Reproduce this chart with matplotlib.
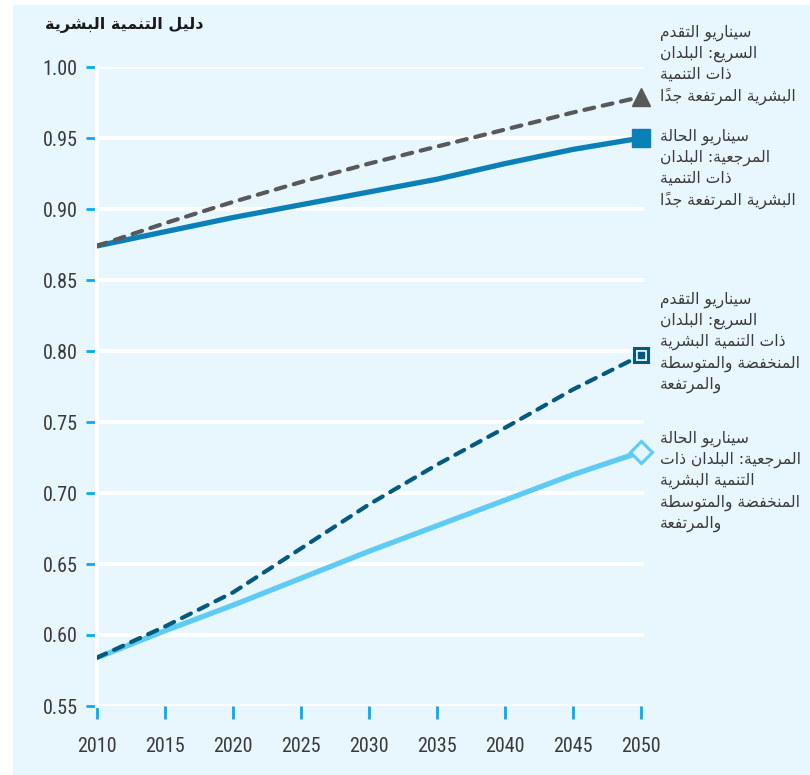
import matplotlib
matplotlib.use("Agg")
import matplotlib.pyplot as plt
from matplotlib import font_manager
from matplotlib.patches import Rectangle

# Human Development Index projections, 2010-2050
years = [2010, 2015, 2020, 2025, 2030, 2035, 2040, 2045, 2050]
vh_reference = [0.874, 0.884, 0.894, 0.903, 0.912, 0.921, 0.932, 0.942, 0.950]
vh_accelerated = [0.874, 0.890, 0.905, 0.919, 0.932, 0.944, 0.956, 0.968, 0.979]
lmh_reference = [0.584, 0.603, 0.621, 0.640, 0.659, 0.677, 0.695, 0.713, 0.729]
lmh_accelerated = [0.584, 0.606, 0.630, 0.661, 0.692, 0.720, 0.746, 0.773, 0.797]

yticks = [0.55, 0.60, 0.65, 0.70, 0.75, 0.80, 0.85, 0.90, 0.95, 1.00]
title = "دليل التنمية البشرية"
label_vh_acc = "سيناريو التقدم\nالسريع: البلدان\nذات التنمية\nالبشرية المرتفعة جدًا"
label_vh_ref = "سيناريو الحالة\nالمرجعية: البلدان\nذات التنمية\nالبشرية المرتفعة جدًا"
label_lmh_acc = "سيناريو التقدم\nالسريع: البلدان\nذات التنمية البشرية\nالمنخفضة والمتوسطة\nوالمرتفعة"
label_lmh_ref = "سيناريو الحالة\nالمرجعية: البلدان ذات\nالتنمية البشرية\nالمنخفضة والمتوسطة\nوالمرتفعة"

# isolated, final, initial, medial presentation forms
FORMS = {
    "ا": ("\uFE8D", "\uFE8E", None, None),
    "ب": ("\uFE8F", "\uFE90", "\uFE91", "\uFE92"),
    "ة": ("\uFE93", "\uFE94", None, None),
    "ت": ("\uFE95", "\uFE96", "\uFE97", "\uFE98"),
    "ج": ("\uFE9D", "\uFE9E", "\uFE9F", "\uFEA0"),
    "ح": ("\uFEA1", "\uFEA2", "\uFEA3", "\uFEA4"),
    "خ": ("\uFEA5", "\uFEA6", "\uFEA7", "\uFEA8"),
    "د": ("\uFEA9", "\uFEAA", None, None),
    "ذ": ("\uFEAB", "\uFEAC", None, None),
    "ر": ("\uFEAD", "\uFEAE", None, None),
    "س": ("\uFEB1", "\uFEB2", "\uFEB3", "\uFEB4"),
    "ش": ("\uFEB5", "\uFEB6", "\uFEB7", "\uFEB8"),
    "ض": ("\uFEBD", "\uFEBE", "\uFEBF", "\uFEC0"),
    "ط": ("\uFEC1", "\uFEC2", "\uFEC3", "\uFEC4"),
    "ع": ("\uFEC9", "\uFECA", "\uFECB", "\uFECC"),
    "ف": ("\uFED1", "\uFED2", "\uFED3", "\uFED4"),
    "ق": ("\uFED5", "\uFED6", "\uFED7", "\uFED8"),
    "ل": ("\uFEDD", "\uFEDE", "\uFEDF", "\uFEE0"),
    "م": ("\uFEE1", "\uFEE2", "\uFEE3", "\uFEE4"),
    "ن": ("\uFEE5", "\uFEE6", "\uFEE7", "\uFEE8"),
    "و": ("\uFEED", "\uFEEE", None, None),
    "ي": ("\uFEF1", "\uFEF2", "\uFEF3", "\uFEF4"),
}
MARKS = {"\u064B"}


def shape_line(line):
    chars = list(line)
    letters = [i for i, c in enumerate(chars) if c not in MARKS]

    def neighbour(i, step):
        k = letters.index(i) + step
        if 0 <= k < len(letters):
            return chars[letters[k]]
        return None

    clusters = []
    skip = False
    for i, c in enumerate(chars):
        if skip and c == "ا":
            skip = False
            continue
        if c in MARKS:
            # mark goes before its base once the line is reversed
            if clusters:
                clusters[-1] = c + clusters[-1]
            continue
        if c not in FORMS:
            clusters.append(c)
            continue
        prev = neighbour(i, -1)
        nxt = neighbour(i, 1)
        join_prev = prev in FORMS and FORMS[prev][2] is not None
        if c == "ل" and nxt == "ا":
            clusters.append("\uFEFC" if join_prev else "\uFEFB")
            skip = True
            continue
        join_next = nxt in FORMS and FORMS[c][2] is not None
        iso, fin, ini, med = FORMS[c]
        if join_prev and join_next:
            clusters.append(med)
        elif join_prev:
            clusters.append(fin)
        elif join_next:
            clusters.append(ini)
        else:
            clusters.append(iso)
    return "".join(reversed(clusters))


def arabic(text):
    return "\n".join(shape_line(l) for l in text.split("\n"))


bg = "#e8f6fe"
tick_color = "#00aeef"
text_color = "#3a3a3a"
c_vh_ref = "#0a80b6"
c_vh_acc = "#58595b"
c_lmh_ref = "#5dcbf4"
c_lmh_acc = "#045a7e"

# narrow face for the numbers if one is around
names = {f.name for f in font_manager.fontManager.ttflist}
narrow = [n for n in ["Liberation Sans Narrow", "Roboto Condensed", "Open Sans Condensed",
                      "DejaVu Sans Condensed"] if n in names]
plt.rcParams["font.family"] = narrow[:1] + ["DejaVu Sans"]
plt.rcParams["font.stretch"] = "condensed"

fig = plt.figure(figsize=(8.1, 7.75), dpi=100)
fig.patch.set_facecolor("white")
fig.patches.append(Rectangle((13 / 810, 0), 1, 1 - 5 / 775, transform=fig.transFigure,
                             facecolor=bg, edgecolor="none", zorder=-10))

ax = fig.add_axes([97 / 810, 1 - 706 / 775, 547 / 810, 639 / 775])
ax.set_facecolor(bg)
ax.set_xlim(2010, 2050.2)
ax.set_ylim(0.55, 1.00)

ax.set_yticks(yticks)
ax.set_yticklabels([f"{v:.2f}" for v in yticks])
ax.set_xticks(years)
ax.set_xticklabels([str(y) for y in years])
lab_size = 14.5 if narrow else 12
ax.tick_params(axis="y", direction="out", length=8, width=2, color=tick_color,
               pad=6, labelsize=lab_size, labelcolor=text_color)
ax.tick_params(axis="x", direction="out", length=9, width=2, color=tick_color,
               pad=13, labelsize=lab_size, labelcolor=text_color)

ax.grid(axis="y", color="white", linewidth=3)
ax.set_axisbelow(True)
for side in ["top", "right", "bottom"]:
    ax.spines[side].set_visible(False)
ax.spines["left"].set_color("white")
ax.spines["left"].set_linewidth(3)

# solid reference lines under the dashed accelerated ones
ax.plot(years, vh_reference, color=c_vh_ref, lw=3.8, solid_capstyle="round", zorder=3)
ax.plot(years, lmh_reference, color=c_lmh_ref, lw=3.8, solid_capstyle="round", zorder=3)
ax.plot(years, vh_accelerated, color=c_vh_acc, lw=3, dashes=(2.4, 2.1),
        dash_capstyle="round", zorder=4)
ax.plot(years, lmh_accelerated, color=c_lmh_acc, lw=3, dashes=(2.4, 2.1),
        dash_capstyle="round", zorder=4)

# end markers
ax.plot(years[-1], vh_accelerated[-1], marker="^", ms=13, color=c_vh_acc,
        mec=c_vh_acc, clip_on=False, zorder=5)
ax.plot(years[-1], vh_reference[-1], marker="s", ms=12.5, color=c_vh_ref,
        mec=c_vh_ref, clip_on=False, zorder=5)
ax.plot(years[-1], lmh_accelerated[-1], marker="s", ms=10, mfc=bg, mec=c_lmh_acc,
        mew=2.2, clip_on=False, zorder=5)
ax.plot(years[-1], lmh_accelerated[-1], marker="s", ms=4.5, color=c_lmh_acc,
        clip_on=False, zorder=6)
ax.plot(years[-1], lmh_reference[-1], marker="D", ms=11, mfc=bg, mec=c_lmh_ref,
        mew=2.2, clip_on=False, zorder=5)

fig.text(45 / 810, 1 - 25 / 775, arabic(title), family="DejaVu Sans", stretch="normal",
         weight="bold", fontsize=11.5, color="#1a1a1a", ha="left", va="center")

labels = [(label_vh_acc, 25), (label_vh_ref, 129), (label_lmh_acc, 292), (label_lmh_ref, 431)]
for text, top in labels:
    fig.text(660 / 810, 1 - top / 775, arabic(text), family="DejaVu Sans", stretch="normal",
             fontsize=11.2, color=text_color, ha="left", va="top",
             multialignment="left", linespacing=1.4)

fig.savefig("out.png", dpi=100, facecolor=fig.get_facecolor())
